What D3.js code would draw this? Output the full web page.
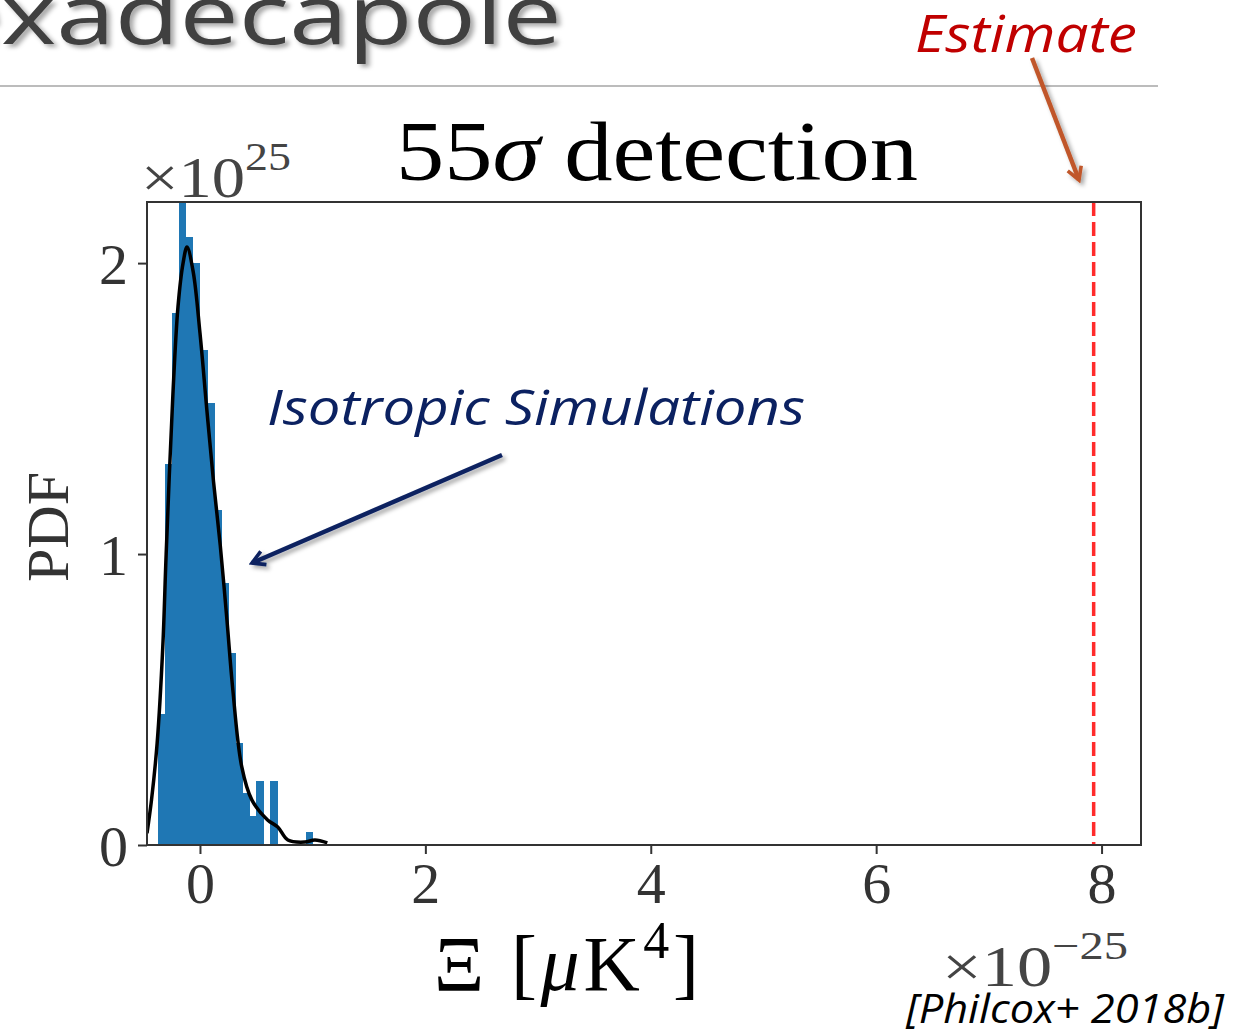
<!DOCTYPE html>
<html>
<head>
<meta charset="utf-8">
<script src="https://cdn.jsdelivr.net/npm/d3@7"></script>
<style>
  body { margin: 0; background: #fff; }
  svg { display: block; }
</style>
</head>
<body>
<svg id="chart" width="1256" height="1034"></svg>
<script>
// histogram bins (left edge, height), units of 1e-25 / 1e25
const binLeft = [-0.375, -0.3125, -0.25, -0.1875, -0.125, -0.0625, 0, 0.0625, 0.125, 0.1875, 0.25,
                 0.3125, 0.375, 0.4375, 0.5, 0.5625, 0.625, 0.6875, 0.75, 0.8125, 0.875, 0.9375];
const binHeight = [0.45, 1.31, 1.83, 2.25, 2.09, 2.0, 1.70, 1.52, 1.15, 0.9, 0.66,
                   0.35, 0.18, 0.1, 0.22, 0, 0.22, 0, 0, 0, 0, 0.045];
const binWidth = 0.0625;

// smoothed density curve
const kdeX = [-0.47, -0.43, -0.38, -0.33, -0.30, -0.24, -0.195, -0.15, -0.115, -0.06, 0.0, 0.06, 0.12,
              0.18, 0.24, 0.29, 0.37, 0.46, 0.6, 0.69, 0.78, 0.93, 1.02, 1.13];
const kdeY = [0.04, 0.155, 0.35, 0.68, 1.0, 1.55, 1.85, 2.0, 2.055, 1.97, 1.76, 1.5, 1.25,
              1.03, 0.77, 0.54, 0.27, 0.155, 0.086, 0.062, 0.017, 0.01, 0.017, 0.007];

const estimate = 7.93;
const xTicks = [0, 2, 4, 6, 8];
const yTicks = [0, 1, 2];

const svg = d3.select("#chart");
const pLeft = 147, pRight = 1141, pTop = 202, pBottom = 845;

const xs = d3.scaleLinear().domain([-0.47, 8.35]).range([pLeft, pRight]);
const ys = d3.scaleLinear().domain([0, 2.21]).range([pBottom, pTop]);

const defs = svg.append("defs");
const shadow = defs.append("filter").attr("id", "shadow").attr("x", "-20%").attr("y", "-20%").attr("width", "150%").attr("height", "150%");
shadow.append("feDropShadow").attr("dx", 3).attr("dy", 3).attr("stdDeviation", 2).attr("flood-color", "#000").attr("flood-opacity", 0.35);
defs.append("clipPath").attr("id", "plotclip").append("rect")
    .attr("x", pLeft).attr("y", pTop).attr("width", pRight - pLeft).attr("height", pBottom - pTop);

function marker(id, color) {
    defs.append("marker").attr("id", id).attr("viewBox", "0 0 10 10").attr("refX", 8).attr("refY", 5)
        .attr("markerWidth", 4).attr("markerHeight", 4).attr("orient", "auto")
        .append("path").attr("d", "M1,1 L8,5 L1,9").attr("fill", "none").attr("stroke", color).attr("stroke-width", 2);
}
marker("navyHead", "#0b2161");
marker("brownHead", "#c0572a");

// slide header: only "xadecapole" is on screen, from x=0 to about 563
const headerGrp = svg.append("g").attr("filter", "url(#shadow)");
const header = headerGrp.append("text").attr("x", 0).attr("y", 44)
   .attr("font-family", "Open Sans, sans-serif").attr("font-size", 82).attr("fill", "#404040");
const hidden = header.append("tspan").text("He");
const shown = header.append("tspan").text("xadecapole");
const sx = 561 / shown.node().getComputedTextLength();
const hiddenW = hidden.node().getComputedTextLength();
headerGrp.attr("transform", `translate(${-hiddenW * sx + 1},0) scale(${sx},1)`);

svg.append("line").attr("x1", 0).attr("x2", 1158).attr("y1", 86).attr("y2", 86)
   .attr("stroke", "#a6a6a6").attr("stroke-width", 1.5);
svg.append("text").attr("x", 915).attr("y", 52).attr("textLength", 222).attr("lengthAdjust", "spacingAndGlyphs")
   .attr("font-family", "Open Sans, sans-serif").attr("font-style", "italic").attr("font-size", 52)
   .attr("fill", "#c00000").text("Estimate");
svg.append("line").attr("x1", 1032).attr("y1", 58).attr("x2", 1079).attr("y2", 180)
   .attr("stroke", "#c0572a").attr("stroke-width", 4.5).attr("marker-end", "url(#brownHead)")
   .attr("filter", "url(#shadow)");

// plot
const plot = svg.append("g").attr("clip-path", "url(#plotclip)");
plot.append("g").attr("shape-rendering", "crispEdges").selectAll("rect").data(binLeft).enter().append("rect")
    .attr("x", d => xs(d))
    .attr("width", d => xs(d + binWidth) - xs(d) + 0.5)
    .attr("y", (d, i) => ys(binHeight[i]))
    .attr("height", (d, i) => ys(0) - ys(binHeight[i]))
    .attr("fill", "#1f77b4");

const line = d3.line().x(d => xs(d[0])).y(d => ys(d[1])).curve(d3.curveCatmullRom);
plot.append("path").attr("d", line(kdeX.map((v, i) => [v, kdeY[i]])))
    .attr("fill", "none").attr("stroke", "#000").attr("stroke-width", 3.5);

plot.append("line").attr("x1", xs(estimate)).attr("x2", xs(estimate)).attr("y1", pTop).attr("y2", pBottom)
    .attr("stroke", "#ff2b2b").attr("stroke-width", 3.5).attr("stroke-dasharray", "14,6");

// frame and axes
svg.append("rect").attr("x", pLeft).attr("y", pTop).attr("width", pRight - pLeft).attr("height", pBottom - pTop)
   .attr("fill", "none").attr("stroke", "#333").attr("stroke-width", 2);

const serif = "Liberation Serif, DejaVu Serif, serif";
const xAxis = svg.append("g").attr("transform", `translate(0,${pBottom})`)
   .call(d3.axisBottom(xs).tickValues(xTicks).tickSize(9).tickPadding(8).tickFormat(d3.format("d")));
const yAxis = svg.append("g").attr("transform", `translate(${pLeft},0)`)
   .call(d3.axisLeft(ys).tickValues(yTicks).tickSize(9).tickPadding(10).tickFormat(d3.format("d")));
[xAxis, yAxis].forEach(ax => {
    ax.select(".domain").remove();
    ax.selectAll(".tick line").attr("stroke", "#333").attr("stroke-width", 2);
    ax.selectAll(".tick text").attr("font-family", serif).attr("font-size", 58).attr("fill", "#333");
});
yAxis.selectAll(".tick text").attr("dy", "0.35em");

// multipliers
const mult1 = svg.append("text").attr("x", 141).attr("y", 197).attr("font-family", serif).attr("fill", "#444").attr("font-size", 58)
   .attr("textLength", 150).attr("lengthAdjust", "spacingAndGlyphs");
mult1.append("tspan").text("×10");
mult1.append("tspan").attr("dy", -27).attr("font-size", 40).text("25");
const mult2 = svg.append("text").attr("x", 942).attr("y", 986).attr("font-family", serif).attr("fill", "#444").attr("font-size", 58)
   .attr("textLength", 186).attr("lengthAdjust", "spacingAndGlyphs");
mult2.append("tspan").text("×10");
mult2.append("tspan").attr("dy", -27).attr("font-size", 40).text("−25");

// titles and labels
const title = svg.append("text").attr("x", 396).attr("y", 180).attr("font-family", serif).attr("font-size", 84).attr("fill", "#000")
   .attr("textLength", 522).attr("lengthAdjust", "spacingAndGlyphs");
title.append("tspan").text("55");
title.append("tspan").attr("font-style", "italic").text("σ");
title.append("tspan").text(" detection");

svg.append("text").attr("transform", "translate(68,527) rotate(-90)").attr("text-anchor", "middle")
   .attr("font-family", serif).attr("font-size", 60).attr("fill", "#333").text("PDF");

const xl = svg.append("text").attr("x", 434).attr("y", 990).attr("font-family", serif).attr("font-size", 78).attr("fill", "#000")
   .attr("textLength", 265).attr("lengthAdjust", "spacing");
xl.append("tspan").text("Ξ  [");
xl.append("tspan").attr("font-style", "italic").text("μ");
xl.append("tspan").text("K");
xl.append("tspan").attr("dy", -32).attr("font-size", 52).text("4");
xl.append("tspan").attr("dy", 32).text("]");

svg.append("text").attr("x", 267).attr("y", 425).attr("textLength", 538).attr("lengthAdjust", "spacingAndGlyphs")
   .attr("font-family", "Open Sans, sans-serif").attr("font-style", "italic").attr("font-size", 50)
   .attr("fill", "#0b2161").text("Isotropic Simulations");
svg.append("line").attr("x1", 502).attr("y1", 455).attr("x2", 252).attr("y2", 563)
   .attr("stroke", "#0b2161").attr("stroke-width", 4.5).attr("marker-end", "url(#navyHead)")
   .attr("filter", "url(#shadow)");

svg.append("text").attr("x", 906).attr("y", 1023).attr("textLength", 318).attr("lengthAdjust", "spacingAndGlyphs")
   .attr("font-family", "Open Sans, sans-serif").attr("font-style", "italic").attr("font-size", 40)
   .attr("fill", "#000").text("[Philcox+ 2018b]");
</script>
</body>
</html>
